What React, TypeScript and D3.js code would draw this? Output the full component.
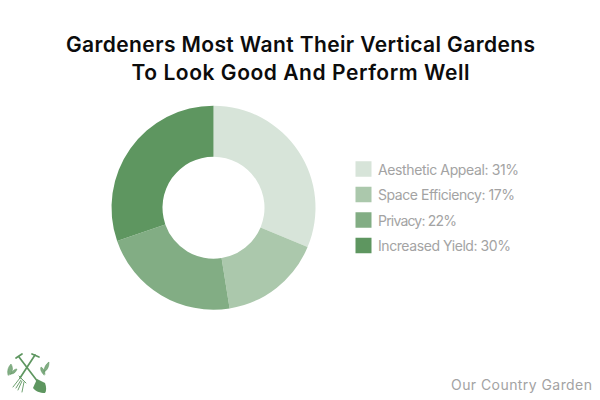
import React from "react";
import * as d3 from "d3";

const categories = ["Aesthetic Appeal", "Space Efficiency", "Privacy", "Increased Yield"];
const sliceValues = [31, 16, 22, 30];
const labelValues = [31, 17, 22, 30];
const colors = ["#d7e4d9", "#abc8ac", "#82ad84", "#5e9660"];
const titleLines = ["Gardeners Most Want Their Vertical Gardens", "To Look Good And Perform Well"];
const titleWidths = [469, 338];
const legendWidths = [141, 137, 79, 133];
const credit = "Our Country Garden";

const FONT = "Inter, 'Open Sans', sans-serif";

function Logo() {
  const g = "#5e9660";
  return (
    <g fill="none" stroke={g} strokeLinecap="round">
      <path d="M19 357 L38 382" strokeWidth={1.7} />
      <path d="M16 358 L22 354" strokeWidth={1.7} />
      <path d="M35 355 L20 378" strokeWidth={1.7} />
      <path d="M32 354 L39 357" strokeWidth={1.7} />
      <path d="M20 378 L13 387 M21 380 L16 388 M22 381 L18 390 M24 382 L22 392 M19 376 L26 383" strokeWidth={0.9} />
      <path d="M37 379 L45 383 C46.5 387 46.5 391 45 393 C40 393 35 391 33 388 Z" fill={g} stroke="none" />
      <path d="M8 375 C7 371 8 367 11 364 C13 367 13 371 11 374 Z M11 374 C13 370 15 369 17 369 C16 372 14 374 11 374 Z" strokeWidth={0.5} fill="#82ad84" />
      <path d="M44 375 C41 372 40 369 41 367 C43 368 45 371 45 374 Z M44 372 C44 367 46 364 49 362 C49 366 48 370 44 372 Z" strokeWidth={0.5} fill="#82ad84" />
    </g>
  );
}

export default function App() {
  const pie = d3.pie<number>().value((d) => d).sort(null);
  const arc = d3.arc<d3.PieArcDatum<number>>().innerRadius(51).outerRadius(102);
  const legendY = d3.scalePoint<string>().domain(categories).range([169, 245.5]);
  return (
    <svg width={600} height={400} style={{ position: "absolute", left: 0, top: 0, background: "#fff" }}>
      <g fontFamily={FONT} fontWeight={600} fontSize={21} fill="#0c0c0c" textAnchor="middle">
        {titleLines.map((t, i) => (
          <text key={t} x={300.5} y={52 + i * 27.5} textLength={titleWidths[i]} lengthAdjust="spacing">{t}</text>
        ))}
      </g>
      <g transform="translate(213.5,207.7)">
        {pie(sliceValues).map((d, i) => (
          <path key={categories[i]} d={arc(d) ?? ""} fill={colors[i]} />
        ))}
      </g>
      {categories.map((c, i) => (
        <g key={c} transform={`translate(355.5,${legendY(c)})`}>
          <rect x={0} y={-7.75} width={16} height={15.5} fill={colors[i]} />
          <text x={22.5} y={5.5} fontFamily={FONT} fontWeight={400} fontSize={14} fill="#a3a3a3" textLength={legendWidths[i]} lengthAdjust="spacing">{`${c}: ${labelValues[i]}%`}</text>
        </g>
      ))}
      <text x={451} y={390} fontFamily={FONT} fontWeight={400} fontSize={14} fill="#a3a3a3" textLength={141} lengthAdjust="spacing">{credit}</text>
      <Logo />
    </svg>
  );
}
